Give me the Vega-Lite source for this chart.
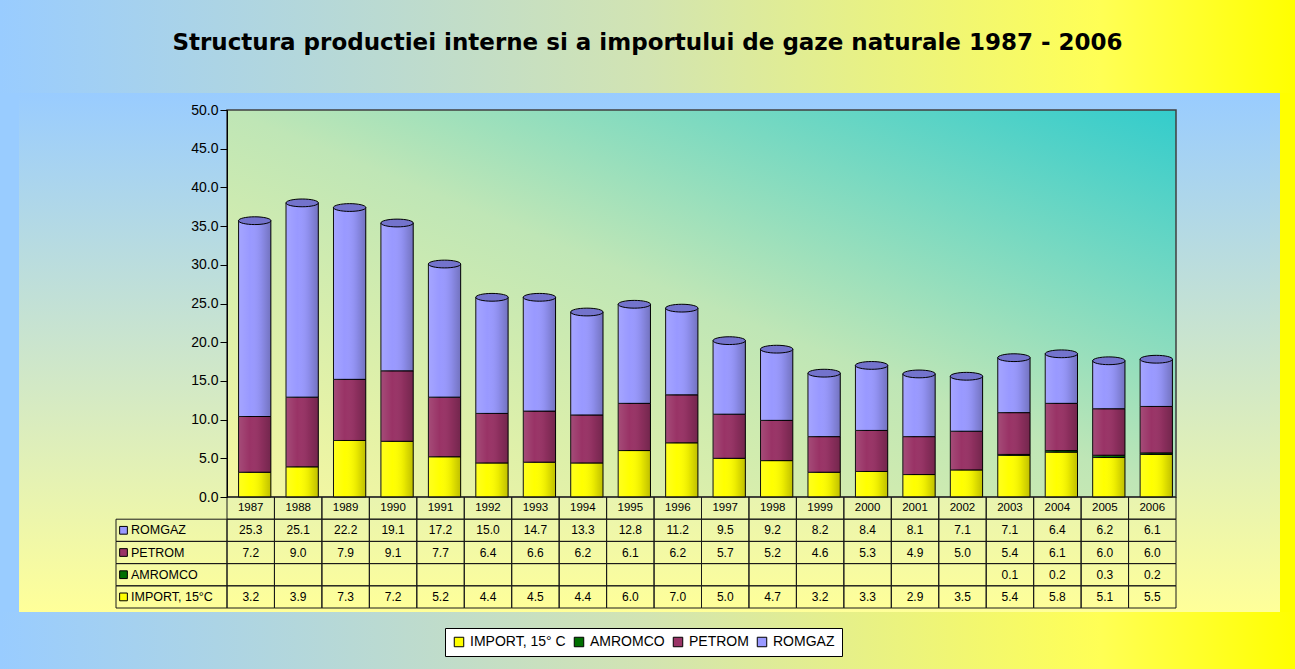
{
  "$schema": "https://vega.github.io/schema/vega-lite/v6.json",
  "padding": 0,
  "background": "#99CCFF",
  "spacing": 0,
  "config": {
    "view": {"stroke": null},
    "concat": {"spacing": 0},
    "font": "Liberation Sans"
  },
  "datasets": {
    "gas": [
      {"year":1987,"series":"IMPORT, 15° C","value":3.2},{"year":1987,"series":"AMROMCO","value":null},{"year":1987,"series":"PETROM","value":7.2},{"year":1987,"series":"ROMGAZ","value":25.3},
      {"year":1988,"series":"IMPORT, 15° C","value":3.9},{"year":1988,"series":"AMROMCO","value":null},{"year":1988,"series":"PETROM","value":9.0},{"year":1988,"series":"ROMGAZ","value":25.1},
      {"year":1989,"series":"IMPORT, 15° C","value":7.3},{"year":1989,"series":"AMROMCO","value":null},{"year":1989,"series":"PETROM","value":7.9},{"year":1989,"series":"ROMGAZ","value":22.2},
      {"year":1990,"series":"IMPORT, 15° C","value":7.2},{"year":1990,"series":"AMROMCO","value":null},{"year":1990,"series":"PETROM","value":9.1},{"year":1990,"series":"ROMGAZ","value":19.1},
      {"year":1991,"series":"IMPORT, 15° C","value":5.2},{"year":1991,"series":"AMROMCO","value":null},{"year":1991,"series":"PETROM","value":7.7},{"year":1991,"series":"ROMGAZ","value":17.2},
      {"year":1992,"series":"IMPORT, 15° C","value":4.4},{"year":1992,"series":"AMROMCO","value":null},{"year":1992,"series":"PETROM","value":6.4},{"year":1992,"series":"ROMGAZ","value":15.0},
      {"year":1993,"series":"IMPORT, 15° C","value":4.5},{"year":1993,"series":"AMROMCO","value":null},{"year":1993,"series":"PETROM","value":6.6},{"year":1993,"series":"ROMGAZ","value":14.7},
      {"year":1994,"series":"IMPORT, 15° C","value":4.4},{"year":1994,"series":"AMROMCO","value":null},{"year":1994,"series":"PETROM","value":6.2},{"year":1994,"series":"ROMGAZ","value":13.3},
      {"year":1995,"series":"IMPORT, 15° C","value":6.0},{"year":1995,"series":"AMROMCO","value":null},{"year":1995,"series":"PETROM","value":6.1},{"year":1995,"series":"ROMGAZ","value":12.8},
      {"year":1996,"series":"IMPORT, 15° C","value":7.0},{"year":1996,"series":"AMROMCO","value":null},{"year":1996,"series":"PETROM","value":6.2},{"year":1996,"series":"ROMGAZ","value":11.2},
      {"year":1997,"series":"IMPORT, 15° C","value":5.0},{"year":1997,"series":"AMROMCO","value":null},{"year":1997,"series":"PETROM","value":5.7},{"year":1997,"series":"ROMGAZ","value":9.5},
      {"year":1998,"series":"IMPORT, 15° C","value":4.7},{"year":1998,"series":"AMROMCO","value":null},{"year":1998,"series":"PETROM","value":5.2},{"year":1998,"series":"ROMGAZ","value":9.2},
      {"year":1999,"series":"IMPORT, 15° C","value":3.2},{"year":1999,"series":"AMROMCO","value":null},{"year":1999,"series":"PETROM","value":4.6},{"year":1999,"series":"ROMGAZ","value":8.2},
      {"year":2000,"series":"IMPORT, 15° C","value":3.3},{"year":2000,"series":"AMROMCO","value":null},{"year":2000,"series":"PETROM","value":5.3},{"year":2000,"series":"ROMGAZ","value":8.4},
      {"year":2001,"series":"IMPORT, 15° C","value":2.9},{"year":2001,"series":"AMROMCO","value":null},{"year":2001,"series":"PETROM","value":4.9},{"year":2001,"series":"ROMGAZ","value":8.1},
      {"year":2002,"series":"IMPORT, 15° C","value":3.5},{"year":2002,"series":"AMROMCO","value":null},{"year":2002,"series":"PETROM","value":5.0},{"year":2002,"series":"ROMGAZ","value":7.1},
      {"year":2003,"series":"IMPORT, 15° C","value":5.4},{"year":2003,"series":"AMROMCO","value":0.1},{"year":2003,"series":"PETROM","value":5.4},{"year":2003,"series":"ROMGAZ","value":7.1},
      {"year":2004,"series":"IMPORT, 15° C","value":5.8},{"year":2004,"series":"AMROMCO","value":0.2},{"year":2004,"series":"PETROM","value":6.1},{"year":2004,"series":"ROMGAZ","value":6.4},
      {"year":2005,"series":"IMPORT, 15° C","value":5.1},{"year":2005,"series":"AMROMCO","value":0.3},{"year":2005,"series":"PETROM","value":6.0},{"year":2005,"series":"ROMGAZ","value":6.2},
      {"year":2006,"series":"IMPORT, 15° C","value":5.5},{"year":2006,"series":"AMROMCO","value":0.2},{"year":2006,"series":"PETROM","value":6.0},{"year":2006,"series":"ROMGAZ","value":6.1}
    ],
    "rows": [
      {"series":"ROMGAZ","label":"ROMGAZ"},
      {"series":"PETROM","label":"PETROM"},
      {"series":"AMROMCO","label":"AMROMCO"},
      {"series":"IMPORT, 15° C","label":"IMPORT, 15°C"}
    ]
  },
  "vconcat": [
    {
      "width": 1295,
      "height": 93,
      "data": {"values": [{}]},
      "layer": [
        {
          "mark": {"type": "rect", "fill": {"gradient": "linear", "x1": 0, "y1": 0, "x2": 1, "y2": 0, "stops": [{"offset": 0, "color": "#99CCFF"}, {"offset": 0.5, "color": "#D2E4B2"}, {"offset": 0.85, "color": "#FFFF55"}, {"offset": 1, "color": "#FFFF00"}]}},
          "encoding": {}
        },
        {
          "mark": {"type": "text", "text": "Structura productiei interne si a importului de gaze naturale 1987 - 2006", "font": "DejaVu Sans", "fontSize": 23, "fontWeight": "bold", "color": "#000000", "dy": -4},
          "encoding": {}
        }
      ]
    },
    {
      "hconcat": [
        {
          "width": 19,
          "height": 519,
          "data": {"values": [{}]},
          "mark": {"type": "rect", "fill": "#99CCFF"},
          "encoding": {}
        },
        {
          "width": 1261,
          "height": 519,
          "data": {"name": "gas"},
          "resolve": {"scale": {"x": "independent", "y": "independent"}, "axis": {"x": "independent", "y": "independent"}},
          "layer": [
            {
              "data": {"values": [{}]},
              "mark": {"type": "rect", "fill": {"gradient": "linear", "x1": 0, "y1": 0, "x2": 0, "y2": 1, "stops": [{"offset": 0, "color": "#99CCFF"}, {"offset": 1, "color": "#FFFF99"}]}},
              "encoding": {}
            },
            {
              "data": {"values": [{}]},
              "mark": {"type": "rect", "fill": {"gradient": "linear", "x1": 0, "y1": 1, "x2": 1, "y2": 0, "stops": [{"offset": 0, "color": "#F7F8A0"}, {"offset": 0.5, "color": "#BFE6B6"}, {"offset": 1, "color": "#33CCCC"}]}, "stroke": "#404040", "strokeWidth": 1.5},
              "encoding": {
                "x": {"datum": 1987, "type": "ordinal", "bandPosition": 0, "axis": null, "scale": {"type": "band", "domain": [1987,1988,1989,1990,1991,1992,1993,1994,1995,1996,1997,1998,1999,2000,2001,2002,2003,2004,2005,2006], "range": [208, 1157], "paddingInner": 0, "paddingOuter": 0}},
                "x2": {"datum": 2006, "bandPosition": 1},
                "y": {"datum": 0, "type": "quantitative", "axis": null, "scale": {"domain": [0, 50], "range": [404, 17], "nice": false, "zero": false}},
                "y2": {"datum": 50}
              }
            },
            {
              "transform": [{"filter": "datum.value != null"}],
              "mark": {"type": "bar", "stroke": "#000000", "strokeWidth": 1, "width": {"band": 0.68}, "xOffset": 4},
              "encoding": {
                "x": {"field": "year", "type": "ordinal", "axis": null, "scale": {"type": "band", "domain": [1987,1988,1989,1990,1991,1992,1993,1994,1995,1996,1997,1998,1999,2000,2001,2002,2003,2004,2005,2006], "range": [208, 1157], "paddingInner": 0, "paddingOuter": 0}},
                "y": {"field": "value", "type": "quantitative", "stack": "zero", "scale": {"domain": [0, 50], "range": [404, 17], "nice": false, "zero": false},
                  "axis": {"offset": -208, "zindex": 2, "values": [0,5,10,15,20,25,30,35,40,45,50], "format": ".1f", "grid": false, "title": null, "domainColor": "#000000", "domainWidth": 1, "tickColor": "#000000", "tickSize": 7, "labelPadding": 2, "labelFont": "Liberation Sans", "labelFontSize": 14, "labelColor": "#000000"}},
                "order": {"field": "year", "type": "ordinal"},
                "color": {"field": "series", "type": "nominal", "sort": ["IMPORT, 15° C", "AMROMCO", "PETROM", "ROMGAZ"],
                  "scale": {"domain": ["IMPORT, 15° C", "AMROMCO", "PETROM", "ROMGAZ"], "range": ["#FFFF00", "#006F00", "#993366", "#9999FF"]},
                  "legend": {"orient": "none", "legendX": 445, "legendY": 628, "direction": "horizontal", "title": null, "values": ["IMPORT, 15° C", "AMROMCO", "PETROM", "ROMGAZ"], "symbolType": "square", "symbolSize": 90, "symbolStrokeColor": "#000000", "symbolStrokeWidth": 1, "labelFont": "Liberation Sans", "labelFontSize": 14, "labelColor": "#000000", "fillColor": "#FFFFFF", "strokeColor": "#000000", "padding": 7, "columnPadding": 6, "labelOffset": 4}}
              }
            },
            {
              "transform": [{"filter": "datum.value != null"}],
              "mark": {"type": "bar", "strokeWidth": 0, "width": {"band": 0.68}, "xOffset": 4},
              "encoding": {
                "x": {"field": "year", "type": "ordinal", "axis": null, "scale": {"type": "band", "domain": [1987,1988,1989,1990,1991,1992,1993,1994,1995,1996,1997,1998,1999,2000,2001,2002,2003,2004,2005,2006], "range": [208, 1157], "paddingInner": 0, "paddingOuter": 0}},
                "y": {"field": "value", "type": "quantitative", "stack": "zero", "axis": null, "scale": {"domain": [0, 50], "range": [404, 17], "nice": false, "zero": false}},
                "order": {"field": "year", "type": "ordinal"},
                "color": {"field": "series", "type": "nominal", "sort": ["IMPORT, 15° C", "AMROMCO", "PETROM", "ROMGAZ"], "legend": null},
                "fill": {"value": {"gradient": "linear", "x1": 0, "y1": 0, "x2": 1, "y2": 0, "stops": [{"offset": 0, "color": "rgba(255,255,255,0.12)"}, {"offset": 0.35, "color": "rgba(255,255,255,0)"}, {"offset": 0.7, "color": "rgba(0,0,0,0.08)"}, {"offset": 1, "color": "rgba(0,0,0,0.25)"}]}}
              }
            },
            {
              "transform": [{"filter": "datum.value != null"}],
              "mark": {"type": "point", "shape": "M-1,0A1,0.24,0,1,1,1,0A1,0.24,0,1,1,-1,0Z", "size": 1050, "filled": true, "fill": "#7373CC", "stroke": "#000000", "strokeWidth": 1, "opacity": 1, "xOffset": 4},
              "encoding": {
                "x": {"field": "year", "type": "ordinal", "axis": null, "scale": {"type": "band", "domain": [1987,1988,1989,1990,1991,1992,1993,1994,1995,1996,1997,1998,1999,2000,2001,2002,2003,2004,2005,2006], "range": [208, 1157], "paddingInner": 0, "paddingOuter": 0}},
                "y": {"aggregate": "sum", "field": "value", "type": "quantitative", "axis": null, "scale": {"domain": [0, 50], "range": [404, 17], "nice": false, "zero": false}}
              }
            },
            {
              "transform": [{"filter": "datum.series == 'ROMGAZ'"}],
              "mark": {"type": "rect", "fill": "transparent", "stroke": "#1A1A1A", "strokeWidth": 1},
              "encoding": {
                "x": {"field": "year", "type": "ordinal", "axis": null, "scale": {"type": "band", "domain": [1987,1988,1989,1990,1991,1992,1993,1994,1995,1996,1997,1998,1999,2000,2001,2002,2003,2004,2005,2006], "range": [208, 1157], "paddingInner": 0, "paddingOuter": 0}},
                "y": {"datum": "Year", "type": "nominal", "axis": null, "scale": {"type": "band", "domain": ["Year", "ROMGAZ", "PETROM", "AMROMCO", "IMPORT, 15° C"], "range": [404, 515], "paddingInner": 0, "paddingOuter": 0}}
              }
            },
            {
              "mark": {"type": "rect", "fill": "transparent", "stroke": "#1A1A1A", "strokeWidth": 1},
              "encoding": {
                "x": {"field": "year", "type": "ordinal", "axis": null, "scale": {"type": "band", "domain": [1987,1988,1989,1990,1991,1992,1993,1994,1995,1996,1997,1998,1999,2000,2001,2002,2003,2004,2005,2006], "range": [208, 1157], "paddingInner": 0, "paddingOuter": 0}},
                "y": {"field": "series", "type": "nominal", "axis": null, "scale": {"type": "band", "domain": ["Year", "ROMGAZ", "PETROM", "AMROMCO", "IMPORT, 15° C"], "range": [404, 515], "paddingInner": 0, "paddingOuter": 0}}
              }
            },
            {
              "transform": [{"filter": "datum.series == 'ROMGAZ'"}],
              "mark": {"type": "text", "font": "Liberation Sans", "fontSize": 11.5, "color": "#000000"},
              "encoding": {
                "x": {"field": "year", "type": "ordinal", "axis": null, "scale": {"type": "band", "domain": [1987,1988,1989,1990,1991,1992,1993,1994,1995,1996,1997,1998,1999,2000,2001,2002,2003,2004,2005,2006], "range": [208, 1157], "paddingInner": 0, "paddingOuter": 0}},
                "y": {"datum": "Year", "type": "nominal", "axis": null, "scale": {"type": "band", "domain": ["Year", "ROMGAZ", "PETROM", "AMROMCO", "IMPORT, 15° C"], "range": [404, 515], "paddingInner": 0, "paddingOuter": 0}},
                "text": {"field": "year", "type": "ordinal"}
              }
            },
            {
              "transform": [{"filter": "datum.value != null"}],
              "mark": {"type": "text", "font": "Liberation Sans", "fontSize": 12, "color": "#000000"},
              "encoding": {
                "x": {"field": "year", "type": "ordinal", "axis": null, "scale": {"type": "band", "domain": [1987,1988,1989,1990,1991,1992,1993,1994,1995,1996,1997,1998,1999,2000,2001,2002,2003,2004,2005,2006], "range": [208, 1157], "paddingInner": 0, "paddingOuter": 0}},
                "y": {"field": "series", "type": "nominal", "axis": null, "scale": {"type": "band", "domain": ["Year", "ROMGAZ", "PETROM", "AMROMCO", "IMPORT, 15° C"], "range": [404, 515], "paddingInner": 0, "paddingOuter": 0}},
                "text": {"field": "value", "type": "quantitative", "format": ".1f"}
              }
            },
            {
              "data": {"name": "rows"},
              "mark": {"type": "rect", "fill": "transparent", "stroke": "#1A1A1A", "strokeWidth": 1},
              "encoding": {
                "x": {"datum": "label", "type": "nominal", "axis": null, "scale": {"type": "band", "domain": ["label"], "range": [97, 208], "paddingInner": 0, "paddingOuter": 0}},
                "y": {"field": "series", "type": "nominal", "axis": null, "scale": {"type": "band", "domain": ["Year", "ROMGAZ", "PETROM", "AMROMCO", "IMPORT, 15° C"], "range": [404, 515], "paddingInner": 0, "paddingOuter": 0}}
              }
            },
            {
              "data": {"name": "rows"},
              "mark": {"type": "point", "shape": "square", "size": 60, "filled": true, "stroke": "#000000", "strokeWidth": 1, "opacity": 1, "xOffset": 7.5},
              "encoding": {
                "x": {"datum": "label", "type": "nominal", "bandPosition": 0, "axis": null, "scale": {"type": "band", "domain": ["label"], "range": [97, 208], "paddingInner": 0, "paddingOuter": 0}},
                "y": {"field": "series", "type": "nominal", "axis": null, "scale": {"type": "band", "domain": ["Year", "ROMGAZ", "PETROM", "AMROMCO", "IMPORT, 15° C"], "range": [404, 515], "paddingInner": 0, "paddingOuter": 0}},
                "color": {"field": "series", "type": "nominal", "sort": ["IMPORT, 15° C", "AMROMCO", "PETROM", "ROMGAZ"], "legend": null}
              }
            },
            {
              "data": {"name": "rows"},
              "mark": {"type": "text", "align": "left", "dx": 15, "font": "Liberation Sans", "fontSize": 12.5, "color": "#000000"},
              "encoding": {
                "x": {"datum": "label", "type": "nominal", "bandPosition": 0, "axis": null, "scale": {"type": "band", "domain": ["label"], "range": [97, 208], "paddingInner": 0, "paddingOuter": 0}},
                "y": {"field": "series", "type": "nominal", "axis": null, "scale": {"type": "band", "domain": ["Year", "ROMGAZ", "PETROM", "AMROMCO", "IMPORT, 15° C"], "range": [404, 515], "paddingInner": 0, "paddingOuter": 0}},
                "text": {"field": "label", "type": "nominal"}
              }
            }
          ]
        },
        {
          "width": 15,
          "height": 519,
          "data": {"values": [{}]},
          "mark": {"type": "rect", "fill": "#FFFF00"},
          "encoding": {}
        }
      ]
    },
    {
      "width": 1295,
      "height": 57,
      "data": {"values": [{}]},
      "mark": {"type": "rect", "fill": {"gradient": "linear", "x1": 0, "y1": 0, "x2": 1, "y2": 0, "stops": [{"offset": 0, "color": "#99CCFF"}, {"offset": 0.5, "color": "#D2E4B2"}, {"offset": 0.85, "color": "#FFFF55"}, {"offset": 1, "color": "#FFFF00"}]}},
      "encoding": {}
    }
  ]
}
